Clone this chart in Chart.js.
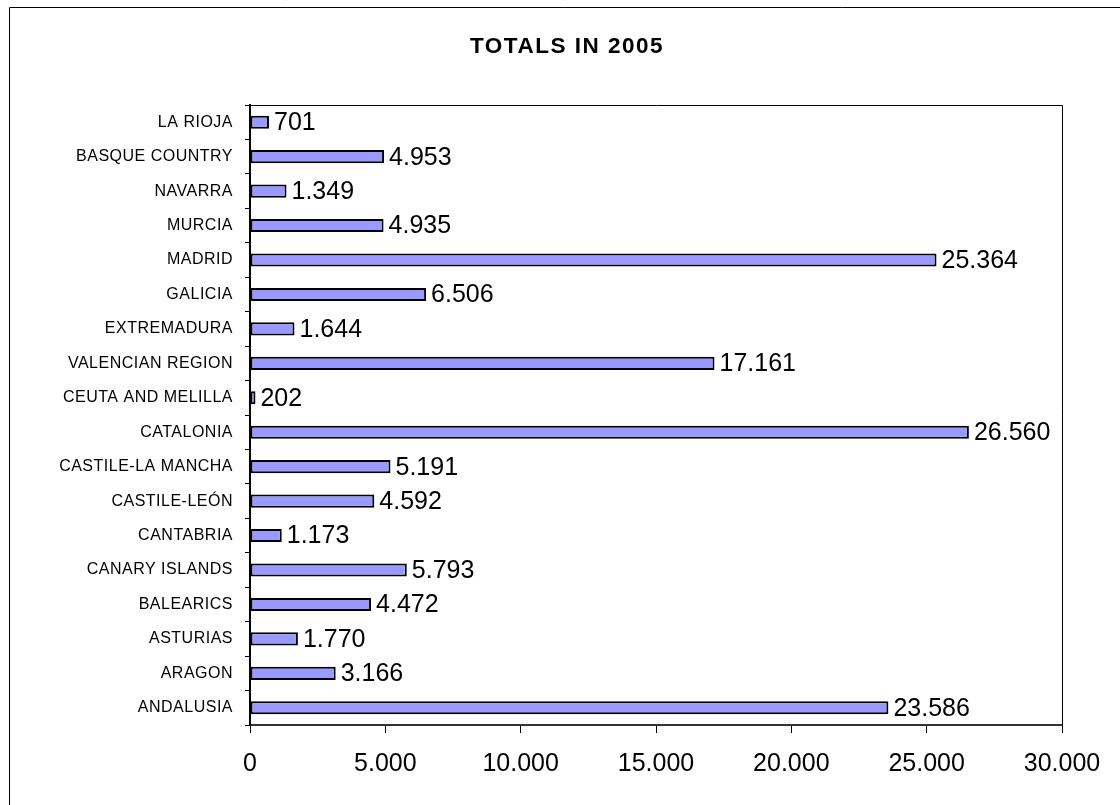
<!DOCTYPE html>
<html>
<head>
<meta charset="utf-8">
<title>Totals in 2005</title>
<script src="https://cdn.jsdelivr.net/npm/chart.js@4.4.1/dist/chart.umd.min.js"></script>
<style>
  html, body { margin: 0; padding: 0; background: #ffffff; }
  #wrap { width: 1120px; height: 805px; position: relative; }
</style>
</head>
<body>
<div id="wrap"><canvas id="chart" width="1120" height="805"></canvas></div>
<script>
// Regions, listed top to bottom as they appear on the chart
const regions = [
  'LA RIOJA', 'BASQUE COUNTRY', 'NAVARRA', 'MURCIA', 'MADRID', 'GALICIA',
  'EXTREMADURA', 'VALENCIAN REGION', 'CEUTA AND MELILLA', 'CATALONIA',
  'CASTILE-LA MANCHA', 'CASTILE-LEÓN', 'CANTABRIA', 'CANARY ISLANDS',
  'BALEARICS', 'ASTURIAS', 'ARAGON', 'ANDALUSIA'
];
// Totals for 2005
const totals2005 = [
  701, 4953, 1349, 4935, 25364, 6506,
  1644, 17161, 202, 26560,
  5191, 4592, 1173, 5793,
  4472, 1770, 3166, 23586
];
// Value axis range
const axisMin = 0;
const axisMax = 30000;
const axisStep = 5000;
const chartTitle = 'TOTALS IN 2005';

// Thousands separated with a dot: 26560 -> "26.560"
function fmt(v) {
  return String(Math.round(v)).replace(/\B(?=(\d{3})+(?!\d))/g, '.');
}

const FONT = 'Arial, "Liberation Sans", Helvetica, sans-serif';

// Frame lines around the chart and the plot area
const framePlugin = {
  id: 'frame',
  beforeDraw(chart) {
    const ctx = chart.ctx;
    ctx.save();
    ctx.fillStyle = '#ffffff';
    ctx.fillRect(0, 0, chart.width, chart.height);
    ctx.strokeStyle = '#000000';
    ctx.lineWidth = 1;
    ctx.beginPath();
    ctx.moveTo(9.5, chart.height);
    ctx.lineTo(9.5, 7.5);
    ctx.lineTo(chart.width, 7.5);
    ctx.stroke();
    ctx.restore();
  },
  afterDatasetsDraw(chart) {
    const a = chart.chartArea;
    const ctx = chart.ctx;
    ctx.save();
    ctx.strokeStyle = '#000000';
    ctx.lineWidth = 1;
    ctx.beginPath();
    ctx.moveTo(Math.round(a.left) + 0.5, Math.round(a.top) + 0.5);
    ctx.lineTo(Math.round(a.right) + 0.5, Math.round(a.top) + 0.5);
    ctx.lineTo(Math.round(a.right) + 0.5, Math.round(a.bottom));
    ctx.stroke();
    ctx.restore();
  }
};

// Value labels at the end of each bar
const valueLabels = {
  id: 'valueLabels',
  afterDatasetsDraw(chart) {
    const ctx = chart.ctx;
    const meta = chart.getDatasetMeta(0);
    const data = chart.data.datasets[0].data;
    ctx.save();
    ctx.font = '25px ' + FONT;
    ctx.fillStyle = '#000000';
    ctx.textAlign = 'left';
    ctx.textBaseline = 'middle';
    meta.data.forEach((bar, i) => {
      ctx.fillText(fmt(data[i]), bar.x + 5, bar.y + 1);
    });
    ctx.restore();
  }
};

// Spaced lettering for the title and region names; the title sits
// centred over the whole frame rather than over the padded chart box
function spaced(fn, spacing, dx) {
  return function (...args) {
    const ctx = this.ctx;
    ctx.save();
    ctx.letterSpacing = spacing;
    if (dx) ctx.translate(dx, 0);
    fn.apply(this, args);
    ctx.restore();
  };
}
const spacedText = {
  id: 'spacedText',
  afterLayout(chart) {
    const s = chart.scales.y;
    if (!s._spacedWrapped) {
      s.drawLabels = spaced(s.drawLabels, '0.5px', 0);
      s._spacedWrapped = true;
    }
    const t = chart.titleBlock;
    if (t && !t._spacedWrapped) {
      t.draw = spaced(t.draw, '1.5px', 36);
      t._spacedWrapped = true;
    }
  }
};

new Chart(document.getElementById('chart'), {
  type: 'bar',
  data: {
    labels: regions,
    datasets: [{
      data: totals2005,
      backgroundColor: '#9999FF',
      borderColor: '#000000',
      borderWidth: 2,
      borderSkipped: false,
      categoryPercentage: 1,
      barPercentage: 0.38
    }]
  },
  options: {
    indexAxis: 'y',
    responsive: false,
    animation: false,
    devicePixelRatio: 1,
    layout: { padding: { left: 0, right: 58, top: 0, bottom: 0 } },
    plugins: {
      legend: { display: false },
      tooltip: { enabled: false },
      title: {
        display: true,
        text: chartTitle,
        color: '#000000',
        font: { family: FONT, size: 22.5, weight: 'bold', lineHeight: 1.2 },
        padding: { top: 33, bottom: 45 }
      }
    },
    scales: {
      x: {
        min: axisMin,
        max: axisMax,
        ticks: {
          stepSize: axisStep,
          color: '#000000',
          font: { family: FONT, size: 25 },
          padding: 16,
          maxRotation: 0,
          callback: (v) => fmt(v)
        },
        grid: {
          drawOnChartArea: false,
          drawTicks: true,
          tickLength: 8,
          tickColor: '#000000',
          tickWidth: 1
        },
        border: { display: true, color: '#333333', width: 2 },
        afterFit(scale) { scale.height = 80; }
      },
      y: {
        ticks: {
          color: '#000000',
          font: { family: FONT, size: 16 },
          padding: 12,
          autoSkip: false
        },
        grid: {
          offset: true,
          drawOnChartArea: false,
          drawTicks: true,
          tickLength: 5,
          tickColor: '#000000',
          tickWidth: 1
        },
        border: { display: true, color: '#000000', width: 2 },
        afterFit(scale) { scale.width = 250; }
      }
    }
  },
  plugins: [framePlugin, valueLabels, spacedText]
});
</script>
</body>
</html>
